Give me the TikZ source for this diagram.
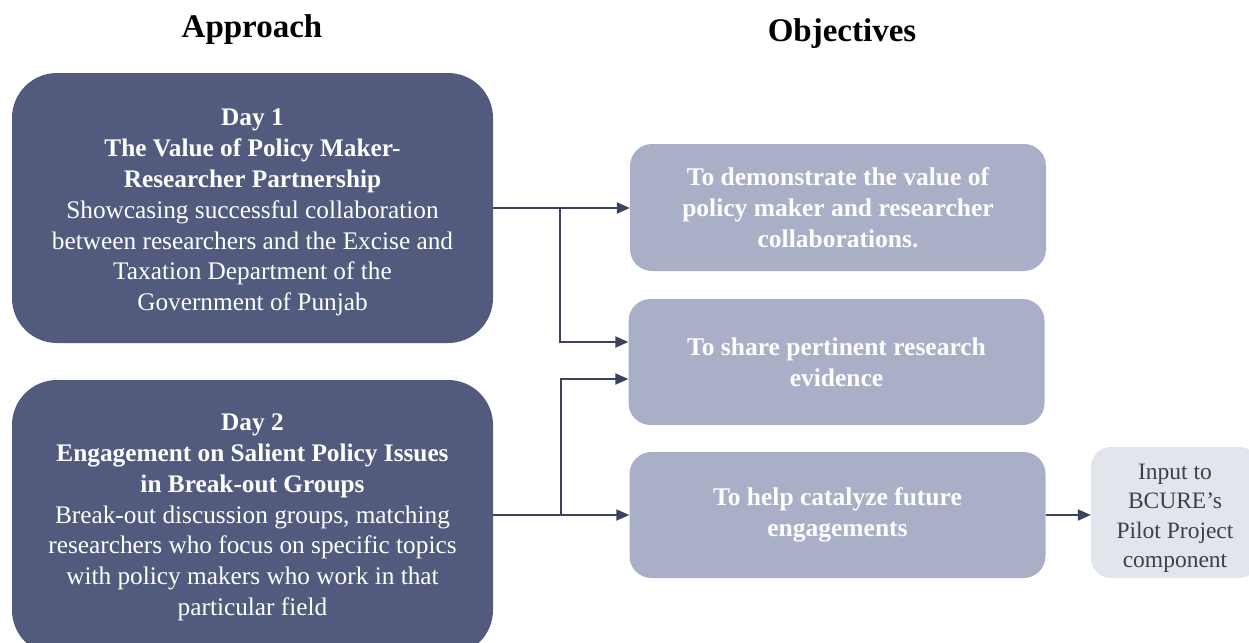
\documentclass[tikz,border=0pt]{standalone}
\usepackage{fontspec}
\setmainfont{Liberation Serif}
\usetikzlibrary{arrows.meta}
\definecolor{daybox}{HTML}{525B7D}
\definecolor{objbox}{HTML}{AAAFC8}
\definecolor{inputbox}{HTML}{E3E5EC}
\definecolor{linkcol}{HTML}{3B4260}
\definecolor{inputtext}{HTML}{3F3F44}
\tikzset{
  daystyle/.style={draw=none, fill=daybox, rounded corners=45pt, text=white,
    align=center, minimum width=481pt, inner sep=0pt,
    font=\fontsize{25.3}{30.8}\selectfont},
  objstyle/.style={draw=none, fill=objbox, rounded corners=22pt, text=white,
    align=center, minimum width=416pt, minimum height=126pt, inner sep=0pt,
    font=\bfseries\fontsize{25.5}{31}\selectfont},
  inputstyle/.style={draw=none, fill=inputbox, rounded corners=20pt, text=inputtext,
    align=center, minimum width=168pt, minimum height=131pt, inner sep=0pt,
    font=\fontsize{23.5}{29.5}\selectfont},
  headstyle/.style={font=\bfseries\fontsize{33}{36}\selectfont, text=black},
  link/.style={draw=linkcol, line width=2pt, -{Triangle[length=13pt,width=11pt]}}
}
\begin{document}
\begin{tikzpicture}[x=1pt, y=-1pt]
  \useasboundingbox (0,0) rectangle (1249,642);
  \clip (0,0) rectangle (1249,642);

  % column headings
  \node[headstyle] (hAppr) at (252,30) {Approach};
  \node[headstyle] (hObj) at (842,34) {Objectives};

  % approach boxes (the strut on the first line lowers the text block a little)
  \node[daystyle, minimum height=270pt] (day1) at (252.5,208)
    {\rule{0pt}{26pt}{\bfseries Day 1}\\{\bfseries The Value of Policy Maker-}\\{\bfseries Researcher Partnership}\\
     Showcasing successful collaboration\\between researchers and the Excise and\\
     Taxation Department of the\\Government of Punjab};
  \node[daystyle, minimum height=275pt] (day2) at (252.5,517.5)
    {{\bfseries Day 2}\\{\bfseries Engagement on Salient Policy Issues}\\{\bfseries in Break-out Groups}\\
     Break-out discussion groups, matching\\researchers who focus on specific topics\\
     with policy makers who work in that\\particular field};

  % objective boxes
  \node[objstyle, minimum height=127pt] (obj1) at (838,207.5)
    {To demonstrate the value of\\policy maker and researcher\\collaborations.};
  \node[objstyle] (obj2) at (836.5,362)
    {To share pertinent research\\evidence};
  \node[objstyle] (obj3) at (837.5,515)
    {To help catalyze future\\engagements};

  % follow-on box
  \node[inputstyle] (input) at (1175,512.5)
    {\rule{0pt}{27pt}Input to\\BCURE's\\Pilot Project\\component};

  % branch points
  \coordinate (b1) at (560,208);
  \coordinate (b2) at (561,515);

  % connectors
  \draw[link] (day1.east |- b1) -- (obj1.west |- b1);
  \draw[link] (b1) |- (obj2.west |- 0,342);
  \draw[link] (day2.east |- b2) -- (obj3.west |- b2);
  \draw[link] (b2) |- (obj2.west |- 0,379);
  \draw[link] (obj3.east) -- (input.west |- obj3.east);
\end{tikzpicture}
\end{document}
